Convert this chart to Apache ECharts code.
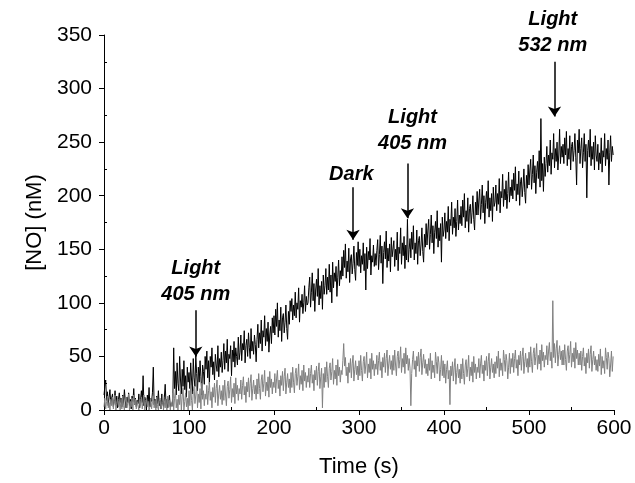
<!DOCTYPE html>
<html>
<head>
<meta charset="utf-8">
<script src="https://cdn.jsdelivr.net/npm/echarts@6/dist/echarts.min.js"></script>
<style>html,body{margin:0;padding:0;background:#fff}#c{width:635px;height:483px}</style>
</head>
<body>
<div id="c"></div>
<script>
// time step of samples (s)
const timeStep = 1;
// Black trace: [NO] (nM), one value per second from t = 0 (20 values per row)
const blackValues = [
  14, 22, 28, 9, 17, 4, 12, 19, 6, 11, 15, 3, 8, 18, 5, 13, 2, 10, 16, 7,
  11, 3, 14, 6, 19, 9, 2, 12, 7, 16, 4, 10, 1, 13, 8, 20, 5, 11, 3, 9,
  6, 15, 2, 10, 18, 7, 32, 4, 12, 9, 1, 14, 6, 21, 3, 11, 8, 16, 40, 5,
  10, 2, 13, 6, 18, 4, 9, 1, 15, 7, 3, 12, 24, 5, 10, 2, 8, 14, 3, 6,
  4, 12, 58, 20, 36, 14, 44, 25, 18, 50, 28, 15, 38, 22, 46, 19, 32, 12, 40, 26,
  35, 20, 44, 28, 15, 48, 30, 22, 52, 34, 18, 40, 26, 46, 31, 14, 42, 36, 24, 50,
  38, 55, 30, 46, 24, 50, 40, 58, 33, 45, 28, 52, 42, 36, 60, 31, 48, 40, 54, 35,
  46, 62, 38, 55, 44, 66, 36, 52, 48, 60, 32, 56, 45, 64, 40, 58, 50, 42, 68, 47,
  54, 70, 46, 62, 56, 74, 44, 60, 66, 50, 72, 58, 48, 76, 55, 64, 52, 70, 61, 45,
  66, 80, 58, 72, 62, 84, 55, 74, 68, 88, 60, 76, 64, 82, 54, 70, 78, 62, 86, 72,
  88, 70, 94, 78, 100, 68, 84, 74, 96, 64, 86, 90, 72, 82, 98, 76, 66, 92, 80, 102,
  92, 104, 84, 98, 88, 110, 86, 100, 94, 114, 82, 102, 96, 108, 90, 100, 116, 92, 106, 98,
  100, 114, 124, 96, 110, 128, 102, 118, 92, 112, 122, 106, 132, 98, 116, 104, 120, 94, 126, 108,
  116, 132, 108, 124, 112, 136, 110, 126, 100, 138, 114, 128, 120, 134, 106, 124, 140, 116, 130, 122,
  143, 125, 149, 133, 155, 123, 139, 129, 151, 119, 141, 145, 127, 137, 153, 131, 121, 147, 135, 157,
  134, 150, 128, 144, 136, 156, 130, 146, 112, 152, 132, 148, 140, 160, 126, 144, 138, 154, 134, 146,
  135, 149, 159, 131, 145, 163, 137, 153, 118, 147, 157, 141, 167, 133, 151, 139, 155, 129, 161, 143,
  142, 158, 134, 150, 140, 166, 130, 152, 146, 170, 136, 156, 144, 162, 132, 154, 140, 178, 138, 150,
  160, 142, 166, 150, 172, 140, 156, 146, 168, 136, 158, 162, 144, 154, 170, 148, 138, 164, 152, 174,
  154, 168, 178, 150, 164, 182, 156, 172, 146, 166, 176, 160, 186, 152, 170, 158, 174, 138, 180, 162,
  168, 184, 160, 176, 166, 190, 158, 178, 172, 194, 164, 180, 170, 188, 162, 176, 196, 168, 182, 174,
  190, 172, 196, 180, 202, 170, 186, 176, 198, 166, 188, 192, 174, 184, 200, 178, 168, 194, 182, 204,
  182, 196, 206, 178, 192, 210, 184, 200, 174, 194, 204, 188, 214, 180, 198, 186, 202, 176, 208, 190,
  194, 210, 186, 202, 192, 216, 184, 204, 198, 220, 190, 206, 196, 214, 188, 202, 222, 194, 208, 200,
  215, 197, 221, 205, 227, 195, 211, 201, 223, 191, 213, 217, 199, 209, 225, 203, 193, 219, 207, 229,
  210, 224, 234, 206, 220, 238, 212, 228, 202, 222, 232, 216, 242, 208, 272, 214, 230, 204, 236, 218,
  230, 246, 222, 238, 228, 252, 220, 240, 234, 258, 226, 244, 232, 250, 224, 238, 262, 230, 246, 236,
  248, 230, 254, 238, 260, 228, 244, 234, 256, 224, 246, 250, 232, 242, 258, 236, 210, 252, 240, 262,
  230, 244, 254, 226, 240, 258, 232, 248, 198, 242, 252, 236, 262, 228, 246, 234, 250, 224, 256, 238,
  232, 248, 224, 240, 230, 254, 222, 242, 236, 258, 228, 244, 234, 252, 210, 240, 256, 232, 246, 238
];
// Gray trace: [NO] (nM), one value per second from t = 0 (20 values per row)
const grayValues = [
  3, 11, 1, 8, 13, 2, 7, 0, 10, 4, 12, 1, 9, 14, 0, 6, 11, 3, 8, 0,
  10, 1, 13, 4, 0, 9, 12, 2, 7, 15, 0, 8, 3, 11, 0, 14, 5, 10, 1, 8,
  7, 0, 10, 4, 12, 1, 9, 14, 0, 6, 11, 3, 8, 0, 3, 11, 1, 8, 13, 2,
  9, 0, 12, 3, 0, 8, 11, 1, 6, 14, 0, 7, 2, 10, 0, 13, 4, 9, 0, 7,
  3, 16, 0, 11, 19, 2, 10, 0, 14, 5, 18, 0, 13, 21, 0, 8, 16, 3, 11, 0,
  18, 4, 23, 9, 0, 17, 22, 6, 14, 26, 2, 15, 7, 20, 1, 25, 10, 18, 4, 15,
  10, 23, 5, 18, 26, 9, 17, 2, 21, 12, 25, 7, 20, 28, 4, 15, 23, 10, 18, 5,
  23, 9, 28, 14, 4, 22, 27, 11, 19, 31, 7, 20, 12, 25, 6, 30, 15, 23, 9, 20,
  15, 28, 10, 23, 31, 14, 22, 7, 26, 17, 30, 12, 25, 33, 9, 20, 28, 15, 23, 10,
  29, 15, 34, 20, 10, 28, 33, 17, 25, 37, 13, 26, 18, 31, 12, 36, 21, 29, 15, 26,
  21, 34, 16, 29, 37, 20, 28, 13, 32, 23, 36, 18, 31, 39, 15, 26, 34, 21, 29, 16,
  35, 21, 40, 26, 16, 34, 39, 23, 31, 43, 19, 32, 24, 37, 18, 42, 27, 35, 21, 32,
  26, 39, 21, 34, 42, 25, 33, 18, 37, 28, 41, 23, 36, 44, 20, 31, 39, 2, 34, 21,
  40, 26, 45, 31, 21, 39, 44, 28, 36, 48, 24, 37, 29, 42, 23, 47, 32, 40, 26, 37,
  33, 46, 62, 41, 49, 32, 40, 25, 44, 35, 48, 30, 43, 51, 27, 38, 46, 33, 41, 28,
  46, 32, 51, 37, 27, 45, 50, 34, 42, 54, 30, 43, 35, 48, 29, 53, 38, 46, 32, 43,
  38, 51, 33, 46, 54, 37, 45, 30, 49, 40, 53, 35, 48, 56, 32, 43, 51, 38, 46, 33,
  51, 37, 56, 42, 32, 50, 55, 39, 47, 59, 35, 48, 40, 53, 34, 58, 43, 51, 37, 48,
  39, 4, 34, 47, 55, 38, 46, 31, 50, 41, 54, 36, 49, 57, 33, 44, 52, 39, 47, 34,
  43, 32, 48, 37, 53, 29, 46, 35, 42, 30, 54, 45, 34, 50, 44, 27, 38, 51, 32, 46,
  30, 43, 25, 38, 46, 29, 37, 5, 41, 32, 45, 27, 40, 48, 24, 35, 43, 30, 38, 25,
  43, 29, 48, 34, 24, 42, 47, 31, 39, 51, 27, 40, 32, 45, 26, 50, 35, 43, 29, 40,
  35, 48, 30, 43, 51, 34, 42, 27, 46, 37, 50, 32, 45, 53, 29, 40, 48, 35, 43, 30,
  45, 34, 50, 39, 55, 31, 48, 37, 44, 32, 56, 47, 36, 52, 46, 29, 40, 53, 34, 48,
  40, 53, 35, 48, 56, 39, 47, 32, 51, 42, 55, 37, 50, 58, 34, 45, 53, 40, 48, 35,
  54, 40, 59, 45, 35, 53, 58, 42, 50, 62, 38, 51, 43, 56, 37, 61, 46, 54, 40, 51,
  47, 60, 42, 55, 63, 46, 54, 39, 102, 49, 62, 44, 57, 65, 41, 52, 60, 47, 55, 42,
  56, 42, 61, 47, 37, 55, 60, 44, 52, 64, 40, 53, 45, 58, 39, 63, 48, 56, 42, 53,
  42, 55, 37, 50, 58, 41, 49, 34, 53, 44, 57, 39, 52, 60, 36, 47, 55, 42, 50, 37,
  47, 36, 52, 41, 57, 33, 50, 39, 46, 34, 58, 49, 38, 54, 48, 31, 42, 55, 36, 50
];
// Annotations: text, text centre [t, nM], arrow from/to [t, nM]
const annotTexts = ['Light\n405 nm', 'Dark', 'Light\n405 nm', 'Light\n532 nm'];
const annotTextPos = [[108, 120], [291, 220], [363, 261], [528, 352]];
const arrowFrom = [[108, 93], [293, 208], [357, 230], [530, 325]];
const arrowTo = [[108, 50], [293, 159], [357, 179], [530, 274]];

const FONT = "'Liberation Sans', Arial, sans-serif";
const toPairs = arr => arr.map((v, i) => [i * timeStep, v]);

const chart = echarts.init(document.getElementById('c'), null, {renderer: 'canvas'});
const lbl = {color: '#000', fontSize: 21, fontFamily: FONT};
const nameStyle = {color: '#000', fontSize: 22, fontFamily: FONT};
const mainAxis = {
  axisLine: {show: true, lineStyle: {color: '#000', width: 1}},
  axisTick: {show: true, length: 5, lineStyle: {color: '#000', width: 1}},
  minorTick: {show: false},
  splitLine: {show: false},
  nameTextStyle: nameStyle
};
const minorAxis = {
  axisLine: {show: false},
  axisTick: {show: false, inside: true},
  minorTick: {show: true, splitNumber: 2, length: 3, lineStyle: {color: '#000', width: 1}},
  axisLabel: {show: false},
  splitLine: {show: false}
};
chart.setOption({
  animation: false,
  backgroundColor: '#fff',
  grid: {left: 104, right: 21, top: 35, bottom: 73, containLabel: false},
  xAxis: [
    Object.assign({}, mainAxis, {
      type: 'value', min: 0, max: 600, interval: 100, position: 'bottom',
      name: 'Time (s)', nameLocation: 'middle', nameGap: 46,
      axisLabel: Object.assign({}, lbl, {margin: 8})
    }),
    Object.assign({}, minorAxis, {type: 'value', min: 0, max: 600, interval: 100, position: 'bottom'})
  ],
  yAxis: [
    Object.assign({}, mainAxis, {
      type: 'value', min: 0, max: 350, interval: 50, position: 'left',
      name: '[NO] (nM)', nameLocation: 'middle', nameGap: 58, nameRotate: 90,
      axisLabel: Object.assign({}, lbl, {margin: 12})
    }),
    Object.assign({}, minorAxis, {type: 'value', min: 0, max: 350, interval: 50, position: 'left'})
  ],
  series: [
    {
      type: 'line', data: toPairs(blackValues), showSymbol: false, symbol: 'none',
      xAxisIndex: 0, yAxisIndex: 0,
      lineStyle: {color: '#000', width: 1}, itemStyle: {color: '#000'},
      markLine: {
        silent: true, symbol: ['none', 'arrow'], symbolSize: 10,
        label: {show: false},
        itemStyle: {color: '#000'},
        lineStyle: {color: '#000', width: 1.5, type: 'solid'},
        data: arrowFrom.map((f, i) => [{coord: f}, {coord: arrowTo[i]}])
      }
    },
    {
      type: 'line', data: toPairs(grayValues), showSymbol: false, symbol: 'none',
      xAxisIndex: 0, yAxisIndex: 0,
      lineStyle: {color: '#808080', width: 1}, itemStyle: {color: '#808080'}
    }
  ]
});
const texts = annotTexts.map((t, i) => {
  const p = chart.convertToPixel({gridIndex: 0}, annotTextPos[i]);
  return {
    type: 'text', x: p[0], y: p[1], silent: true,
    style: {text: t, fill: '#000', font: 'italic bold 20px ' + FONT,
      align: 'center', verticalAlign: 'middle', lineHeight: 26}
  };
});
chart.setOption({graphic: texts});
</script>
</body>
</html>
